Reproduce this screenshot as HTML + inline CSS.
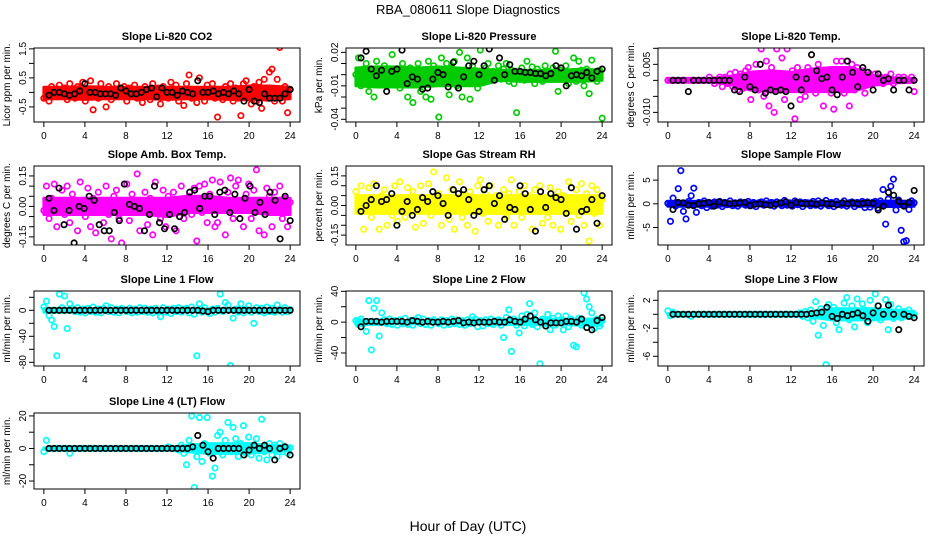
<!DOCTYPE html>
<html><head><meta charset="utf-8">
<style>
html,body{margin:0;padding:0;background:#fff;}
svg{display:block;font-family:"Liberation Sans",sans-serif;}
</style></head>
<body>
<svg id="chart" width="936" height="540" viewBox="0 0 936 540">
<text x="468" y="14" text-anchor="middle" font-size="13">RBA_080611  Slope Diagnostics</text>
<text x="468" y="531" text-anchor="middle" font-size="14">Hour of Day (UTC)</text>
</svg>
<script>
// ---- data ----
const xTicks = [0,4,8,12,16,20,24];
const panelTitles = ["Slope Li-820 CO2","Slope Li-820 Pressure","Slope Li-820 Temp.","Slope Amb. Box Temp.","Slope Gas Stream RH","Slope Sample Flow","Slope Line 1 Flow","Slope Line 2 Flow","Slope Line 3 Flow","Slope Line 4 (LT) Flow"];
const yTitles = ["Licor ppm per min.","kPa per min.","degrees C per min.","degrees C per min.","percent per min.","ml/min per min.","ml/min per min.","ml/min per min.","ml/min per min.","ml/min per min."];
const yTickLabels = [[-0.5,0.5,1.5],[0.02,-0.01,-0.04],[0.005,-0.010],[0.15,0.00,-0.15],[0.15,0.00,-0.15],[5,0,-5],[0,-40,-80],[40,0,-40],[2,-2,-6],[20,0,-20]];
const yTickText = [["-0.5","0.5","1.5"],["0.02","-0.01","-0.04"],["0.005","-0.010"],["0.15","0.00","-0.15"],["0.15","0.00","-0.15"],["5","0","-5"],["0","-40","-80"],["40","0","-40"],["2","-2","-6"],["20","0","-20"]];
const yMinorTicks = [[-0.5,0,0.5,1,1.5],[0.02,0.01,0,-0.01,-0.02,-0.03,-0.04],[0.010,0.005,0,-0.005,-0.010],[0.15,0.1,0.05,0,-0.05,-0.1,-0.15],[0.15,0.1,0.05,0,-0.05,-0.1,-0.15],[5,0,-5],[20,0,-20,-40,-60,-80],[40,20,0,-20,-40],[2,0,-2,-4,-6],[20,10,0,-10,-20]];
const yMin = [-1.02,-0.0424,-0.013,-0.19,-0.2,-8.7,-85.7,-56.9,-7.39,-24.9];
const yMax = [1.53,0.0239,0.0101,0.199,0.2,7.98,29.7,40.4,3.33,21.8];
const seriesColors = ["#ff0000","#00cc00","#ff00ff","#ff00ff","#ffff00","#0000ff","#00ffff","#00ffff","#00ffff","#00ffff"];

// dense-band envelope at hours 0,2,4,...,24
const bandHours=[0,2,4,6,8,10,12,14,16,18,20,22,24];
const bandLo=[
 [-0.22,-0.22,-0.24,-0.22,-0.22,-0.22,-0.24,-0.22,-0.22,-0.24,-0.26,-0.26,-0.22],
 [-0.010,-0.011,-0.011,-0.011,-0.010,-0.010,-0.010,-0.005,-0.006,-0.006,-0.006,-0.006,-0.005],
 [-0.0003,-0.0003,-0.0005,-0.0012,-0.003,-0.0035,-0.0035,-0.0035,-0.0035,-0.0035,-0.0015,-0.0008,-0.0006],
 [-0.04,-0.04,-0.04,-0.04,-0.04,-0.04,-0.05,-0.03,-0.03,-0.03,-0.03,-0.04,-0.04],
 [-0.04,-0.04,-0.04,-0.04,-0.04,-0.04,-0.04,-0.04,-0.04,-0.04,-0.04,-0.04,-0.04],
 [-0.5,-0.5,-0.5,-0.45,-0.45,-0.45,-0.45,-0.45,-0.45,-0.45,-0.5,-0.6,-0.5],
 [-3,-3,-2,-2,-2,-2,-2,-2,-2,-2,-2,-2,-2],
 [-3,-3,-2,-2,-2,-2,-2,-3,-3,-3,-3,-4,-4],
 [-0.1,-0.07,-0.06,-0.06,-0.06,-0.06,-0.06,-0.4,-0.8,-0.8,-0.8,-0.6,-0.4],
 [-0.5,-0.4,-0.4,-0.4,-0.4,-0.4,-0.4,-2,-3,-3,-3,-2,-1.5]
];
const bandHi=[
 [0.18,0.18,0.2,0.18,0.18,0.18,0.18,0.18,0.18,0.18,0.22,0.22,0.18],
 [0.006,0.007,0.007,0.006,0.007,0.006,0.005,0.004,0.004,0.004,0.004,0.005,0.004],
 [0.0003,0.0003,0.0005,0.0012,0.0025,0.003,0.0025,0.0035,0.004,0.004,0.0015,0.0008,0.0006],
 [0.04,0.04,0.04,0.04,0.04,0.04,0.04,0.05,0.05,0.04,0.04,0.04,0.04],
 [0.05,0.05,0.05,0.05,0.05,0.05,0.05,0.05,0.05,0.05,0.05,0.05,0.05],
 [0.5,0.5,0.5,0.45,0.45,0.45,0.45,0.45,0.45,0.45,0.5,0.6,0.5],
 [3,3,2,2,2,2,2,2,2,2,2,2,2],
 [3,3,2,2,2,2,2,3,4,4,4,4,4],
 [0.1,0.07,0.06,0.06,0.06,0.06,0.06,0.4,0.8,0.8,0.8,0.6,0.4],
 [0.5,0.4,0.4,0.4,0.4,0.4,0.4,2,3,3,3,2,1.5]
];

const p1c=[-0.2,0.1,-0.3,0.2,0.05,-0.15,0.25,-0.1,0.15,-0.25,0.3,0.0,-0.2,0.2,-0.1,0.35,-0.3,0.1,0.4,-0.6,0.05,-0.2,0.3,-0.1,-0.5,0.2,-0.25,0.1,0.3,-0.15,0.0,0.2,-0.3,0.15,-0.1,0.25,-0.2,0.1,-0.35,0.2,0.05,-0.25,0.3,-0.1,0.15,-0.4,0.2,0.0,-0.2,0.35,-0.1,0.25,-0.3,0.1,-0.45,0.3,0.6,-0.2,0.1,-0.35,0.5,0.0,-0.3,0.25,-0.1,0.3,-0.2,-0.85,0.1,-0.25,0.2,-0.1,0.3,-0.3,0.15,-0.2,-0.8,0.3,0.4,-0.1,-0.4,0.2,-0.3,0.35,-0.55,0.45,-0.2,0.7,0.8,-0.3,0.45,1.55,-0.3,0.2,-0.7,0.1];
const p1b=[-0.1,0.0,0.0,-0.05,-0.1,-0.05,0.05,0.3,0.0,0.0,-0.05,-0.05,-0.05,-0.1,0.15,0.05,-0.05,-0.05,0.0,0.1,0.15,-0.15,0.15,0.0,0.0,-0.1,0.05,0.0,-0.05,0.4,0.0,0.0,0.05,-0.05,0.0,-0.05,0.05,-0.05,-0.3,0.1,-0.3,-0.35,-0.05,-0.2,-0.2,-0.2,-0.05,0.1];
const p2c=[0.0,0.015,-0.01,0.005,0.01,-0.015,0.002,-0.02,0.012,0.0,-0.005,0.008,-0.01,0.003,0.018,-0.008,0.005,-0.012,0.01,-0.005,-0.02,0.006,-0.025,0.0,0.01,-0.015,0.004,-0.02,0.012,-0.022,0.008,0.0,-0.038,0.015,-0.005,0.01,-0.018,0.006,0.012,-0.01,0.02,-0.02,0.004,0.015,-0.022,0.008,0.0,-0.012,0.022,-0.005,0.006,0.01,-0.005,0.003,0.0,0.008,-0.004,0.005,0.01,-0.006,0.004,-0.008,-0.034,0.002,0.006,-0.005,0.012,-0.004,0.007,-0.008,0.005,0.0,-0.006,0.008,0.003,-0.004,0.006,0.021,-0.015,0.004,-0.003,0.008,-0.008,0.002,0.015,-0.006,0.012,0.004,-0.01,0.005,-0.017,0.013,0.002,-0.006,0.004,-0.039];
const p2b=[0.015,0.021,0.005,-0.001,0.004,-0.015,0.003,0.005,0.022,-0.008,-0.002,-0.004,-0.013,-0.012,-0.004,0.002,0.0,-0.011,0.011,-0.012,-0.002,0.008,0.012,0.0,0.008,0.023,-0.005,0.015,0.0,0.009,0.003,0.003,0.002,0.002,0.001,0.001,-0.001,0.001,0.008,0.006,-0.01,-0.001,0.0,-0.001,0.002,-0.003,0.003,0.005];
const p3c=[0,0,0,0,0,0,0,0,0,0,0,0,0,0,0,0,0.001,0,-0.001,0,0.001,-0.002,0.001,-0.001,0.002,-0.002,0.0025,-0.003,0.002,-0.0025,0.003,0.004,-0.006,0.002,0.005,-0.003,0.0098,-0.005,0.006,-0.008,0.004,-0.010,0.0098,-0.003,0.007,-0.006,0.0098,-0.002,0.003,-0.012,0.004,-0.006,0.002,-0.005,0.004,-0.001,0.003,-0.004,0.005,-0.002,-0.008,0.002,0.003,-0.004,-0.009,0.006,0.001,0.006,-0.004,0.006,-0.008,0.005,-0.003,0.004,-0.002,0.003,-0.004,0.001,0.002,-0.001,0.002,0,0.001,-0.001,0.001,0,0.002,-0.001,0,0.001,0,0.001,0,0,0.001,-0.0035];
const p3b=[0,0,0,-0.0035,0,0,0,0,0,0,0,0,-0.003,-0.0035,0.001,-0.002,-0.003,0.005,-0.004,-0.003,-0.0035,-0.003,-0.0035,-0.008,0.001,-0.003,0.0005,0.008,0.003,0.0005,0.001,-0.003,-0.0045,0.001,0.006,0.0025,-0.002,0.004,0.0025,-0.003,0.002,0,0.0005,-0.003,0,0,-0.003,0];
const p4c=[-0.02,0.1,-0.06,0.04,0.11,-0.1,0.02,0.08,-0.04,0.1,-0.08,0.06,0.0,-0.12,0.12,0.03,-0.05,0.09,-0.1,0.04,-0.13,0.07,0.0,-0.08,0.1,-0.04,-0.16,0.05,0.08,-0.06,-0.18,0.03,0.11,-0.07,0.06,-0.02,0.16,-0.12,0.02,0.07,-0.09,0.04,-0.14,0.12,0.0,-0.06,0.08,-0.1,0.05,-0.02,0.07,-0.12,0.03,0.1,-0.06,0.02,0.05,-0.04,0.09,-0.17,0.1,-0.03,0.11,-0.08,0.06,0.13,-0.1,-0.08,0.12,0.0,-0.14,0.07,0.14,-0.06,0.1,0.13,-0.02,-0.1,0.06,0.11,-0.06,0.08,0.18,-0.12,0.02,-0.14,0.09,0.05,-0.1,0.07,-0.03,0.1,-0.06,0.04,-0.1,0.02];
const p4b=[0.04,-0.02,0.09,-0.09,-0.02,-0.18,0.0,-0.01,0.05,0.03,-0.09,-0.12,-0.12,-0.03,-0.07,0.11,0.01,0.0,-0.01,-0.12,-0.04,0.1,-0.08,-0.11,-0.04,-0.11,-0.05,-0.03,0.07,0.08,-0.01,0.05,0.05,-0.04,0.07,0.08,-0.03,0.06,-0.06,0.04,0.1,-0.03,0.02,-0.04,0.07,0.03,-0.16,0.05,-0.07];
const p5c=[0.07,-0.03,0.1,-0.12,0.02,0.09,-0.06,0.11,-0.02,-0.12,0.05,0.08,-0.1,0.03,-0.05,0.1,-0.08,0.12,0.0,-0.06,0.09,-0.03,0.07,-0.11,0.04,0.1,-0.09,0.02,0.11,-0.05,0.17,-0.03,0.06,-0.1,0.0,0.14,-0.07,0.08,-0.12,0.03,0.12,-0.06,0.05,-0.1,0.07,-0.02,-0.13,0.1,0.13,-0.04,0.06,-0.08,0.1,-0.02,0.05,-0.1,0.02,0.08,-0.06,0.06,0.13,-0.1,0.02,0.07,-0.06,0.1,-0.03,0.05,-0.12,0.08,-0.02,0.1,-0.09,0.03,-0.06,0.09,-0.1,0.02,0.07,-0.12,0.05,-0.04,0.12,-0.08,0.02,0.08,-0.05,0.11,-0.1,0.06,-0.18,0.1,-0.04,0.08,-0.1,0.03];
const p5b=[-0.03,0.0,0.03,0.1,0.02,0.03,0.06,-0.1,-0.03,0.02,-0.05,-0.02,0.04,0.02,0.07,0.05,0.01,-0.05,0.08,0.06,0.08,0.03,-0.05,-0.03,0.08,0.1,0.01,0.05,-0.07,-0.01,-0.02,0.1,0.06,-0.02,-0.13,0.07,-0.01,0.06,0.04,0.03,-0.04,0.09,-0.12,-0.03,-0.02,0.03,-0.09,0.05];
const p6c=[0.1,-3.7,1.2,-0.5,3.2,7,-1.6,-3.2,0.5,1.7,3.3,-1.8,0.3,-0.4,0.6,-0.8,0.2,-0.5,0.4,-0.3,0.5,-0.6,0.3,-0.2,0.6,-0.4,0.2,-0.5,0.4,0.0,-0.3,0.5,-0.4,0.3,-0.6,0.2,0.4,-0.3,0.6,-0.2,0.3,-0.5,0.4,0.1,-0.4,0.7,-0.3,0.2,-0.5,0.6,-0.2,0.4,-0.6,0.3,0.2,-0.4,0.5,-0.3,0.6,-0.5,0.2,0.7,-0.4,0.3,-0.6,0.5,0.0,-0.3,0.6,-0.5,0.2,0.4,-0.6,0.3,-0.2,0.5,-0.8,0.4,-0.7,0.3,0.5,-0.9,0.6,3.0,-4.3,1.0,3.7,5.2,-1.3,0.8,-5.6,-8.0,-7.8,-1.2,0.6,0.2];
const p6b=[-1.2,0.3,0.2,-0.3,-0.4,0.0,0.1,0.3,-0.5,0.4,0.2,0.0,0.1,0.2,0.3,-0.4,-0.1,0.0,-0.2,-0.3,-0.1,0.2,0.4,-0.3,0.3,0.1,0.0,0.1,-0.1,0.2,0.0,0.0,-0.2,0.2,0.0,0.2,0.0,0.1,0.2,0.1,-1.3,-0.5,2.4,1.8,0.5,-0.5,0.3,2.8];
const p7c=[5,14,-8,-15,-25,-70,25,4,22,-28,10,3,-2,4,-3,2,-4,3,-2,5,-3,2,-4,3,7,-2,4,-3,2,-4,3,1,-2,3,-4,2,-3,4,-2,3,-3,2,-4,3,-2,-10,4,-3,2,-5,3,-2,4,-3,2,3,-4,5,-6,-70,10,-3,4,-2,-5,2,-3,3,25,-2,12,8,-85,-12,2,-3,10,-4,2,7,-3,-20,4,-2,3,-4,5,-2,3,-3,8,2,-3,4,-2,1];
const p7b=[0,0,0,0,0,0,0,0,0,0,0,0,0,0,0,0,0,0,0,0,0,0,0,0,0,0,0,0,0,0,-1,-2,0,0,0,0,0,0,0,0,0,0,0,0,0,0,0,0];
const p8c=[2,-3,4,-2,-12,28,-36,18,28,-18,12,3,-2,4,-3,2,-4,3,-2,5,-3,2,-4,3,6,-2,4,-3,2,-4,3,1,-2,3,-4,2,-3,4,-2,3,-3,2,-4,3,-2,7,4,-6,2,-5,3,-2,4,-3,2,3,-4,-20,6,16,-38,4,-4,-14,8,-5,10,24,-3,12,-6,-54,4,-2,10,-10,5,-4,8,3,-10,8,-6,4,-30,-32,5,-4,38,30,20,12,-8,4,-5,2];
const p8b=[-6,1,1,1,0,1,1,1,1,0,2,1,0,1,0,0,1,0,1,2,-1,0,-1,0,0,0,1,0,0,3,1,0,4,8,3,0,-5,-1,-1,-1,1,1,0,4,-7,-10,2,6];
const p9c=[0.5,-0.2,0.3,0,0,0,0,0,0,-0.3,0,0,0,0,0,0,0,0,0,0,0,0,0,0,0,0,0,0,0,0,0,0,0,0,0,0,0,0,0,0,0,0,0,0,0,0,0,0,0,0,0,0.2,-0.3,0.4,-0.5,0.6,-1.0,1.8,-3.0,0.8,-1.6,-7.2,1.4,-0.5,1.0,-1.2,-2.2,0.5,1.6,2.4,-0.8,1.2,-1.8,2.2,-0.4,1.5,0.6,-1.2,2.0,-0.5,2.9,1.2,-0.8,0.4,2.1,-2.2,1.4,-0.6,0.3,0.8,-0.5,0.4,-0.3,0.6,-0.2,0.0];
const p9b=[0,0,0,0,0,0,0,0,0,0,0,0,0,0,0,0,0,0,0,0,0,0,0,0,0,0,0,0.1,0.2,0.3,1.0,-0.3,-0.6,0.0,-0.2,0.0,0.2,-0.2,-1.0,0.2,1.2,0.0,1.3,0.0,-2.2,0.0,-0.3,-0.5];
const p10c=[-2,5,0,0,0,0,0,0,0,0,-3,0,0,0,0,0,0,0,0,0,0,0,0,0,0,0,0,0,0,0,0,0,0,0,0,0,0,0,0,0,0,0,0,0,0,0,0,0,1,0,0,0,-1,2,-3,-10,5,20,-24,-5,19,-8,3,19,-3,-17,-12,8,10,-4,5,16,-2,13,6,-5,3,14,-3,7,-4,2,6,-6,18,-2,-7,3,-4,2,-5,3,-2,1,-3,0.5];
const p10b=[0,0,0,0,0,0,0,0,0,0,0,0,0,0,0,0,0,0,0,0,0,0,0,0,0,0,0,0,1,8,2,-2,-6,0,0,0,0,0,-4,-1,2,0,2,0,-7,0,1,-4];

const coloredSeries=[p1c,p2c,p3c,p4c,p5c,p6c,p7c,p8c,p9c,p10c];
const blackSeries=[p1b,p2b,p3b,p4b,p5b,p6b,p7b,p8b,p9b,p10b];

// ---- layout ----
const colLeft=[34,346,658], boxW=266;
const rowTop=[48,166,291,413], rowH=[74,79,75,76];
const NS="http://www.w3.org/2000/svg";
const svg=document.getElementById('chart');
function mk(tag,attrs,parent){const e=document.createElementNS(NS,tag);for(const k in attrs)e.setAttribute(k,attrs[k]);(parent||svg).appendChild(e);return e;}

for(let p=0;p<10;p++){
  const col=p%3,row=Math.floor(p/3);
  const L=colLeft[col],T=rowTop[row],W=boxW,H=rowH[row];
  const g=mk('g',{});
  
  
  const xs=h=>L+(h+0.96)/25.92*W;
  const ys=v=>T+H-(v-yMin[p])/(yMax[p]-yMin[p])*H;
  const t=mk('text',{x:L+W/2,y:T-8,'text-anchor':'middle','font-size':'11','font-weight':'bold'},g);
  t.textContent=panelTitles[p];
  
  
  const yt=mk('text',{x:0,y:0,'text-anchor':'middle','font-size':'10',transform:`translate(${L-24},${T+H/2}) rotate(-90)`},g);
  yt.textContent=yTitles[p];
  
  
  const cid='clip'+p;
  const cp=mk('clipPath',{id:cid},g);mk('rect',{x:L,y:T,width:W,height:H},cp);
  const pts=mk('g',{'clip-path':`url(#${cid})`,fill:'none','stroke-width':'1.7'},g);
  
  
  let d='';
  bandHours.forEach((h,i)=>{d+=(i?'L':'M')+xs(h).toFixed(1)+','+ys(bandHi[p][i]).toFixed(1);});
  for(let i=bandHours.length-1;i>=0;i--){d+='L'+xs(bandHours[i]).toFixed(1)+','+ys(bandLo[p][i]).toFixed(1);}
  d+='Z';
  const band=mk('path',{d:d,fill:seriesColors[p],stroke:seriesColors[p],'stroke-width':'3','stroke-linejoin':'round'},pts);
  
  
  const cs=coloredSeries[p];
  cs.forEach((v,i)=>{
    const c=mk('circle',{cx:xs(i*24/(cs.length-1)),cy:ys(v),r:2.7,stroke:seriesColors[p]},pts);
    
    
  });
  const bs=blackSeries[p];
  bs.forEach((v,i)=>{
    const c=mk('circle',{cx:xs(0.5+i*23.5/(bs.length-1)),cy:ys(v),r:2.7,stroke:'#000'},pts);
    
    
  });
  const b=mk('rect',{x:L,y:T,width:W,height:H,fill:'none',stroke:'#000','stroke-width':'1'},g);
  
  
  const xa=mk('g',{},g);
  
  
  xTicks.forEach(h=>{
    const x=xs(h);
    mk('line',{x1:x,x2:x,y1:T+H,y2:T+H+5,stroke:'#000'},xa);
    const tx=mk('text',{x:x,y:T+H+17,'text-anchor':'middle','font-size':'10'},xa);
    tx.textContent=h;
  });
  const ya=mk('g',{},g);
  
  
  yMinorTicks[p].forEach(v=>{
    const y=ys(v);
    if(y<T-1||y>T+H+1)return;
    mk('line',{x1:L-5,x2:L,y1:y,y2:y,stroke:'#000'},ya);
  });
  yTickLabels[p].forEach((v,i)=>{
    const y=ys(v);
    const tx=mk('text',{x:0,y:0,'text-anchor':'middle','font-size':'10',transform:`translate(${L-8},${y}) rotate(-90)`},ya);
    tx.textContent=yTickText[p][i];
  });
}
</script>
</body></html>
